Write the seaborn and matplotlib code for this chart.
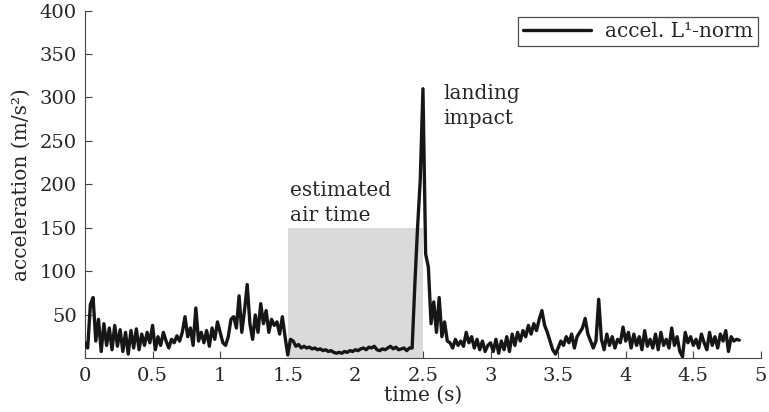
import numpy as np
import pandas as pd
import matplotlib
matplotlib.use("Agg")
import matplotlib.pyplot as plt
import seaborn as sns

sample_step = 0.02
accel = [
    18, 12, 62, 70, 20, 45, 8, 40, 15, 35, 10, 38, 14, 33, 8, 30, 5, 32, 12, 34, 10, 28, 15, 30, 18,
    38, 10, 25, 15, 30, 20, 12, 22, 18, 26, 20, 30, 48, 25, 35, 15, 58, 20, 30, 18, 32, 14, 35, 22, 42,
    30, 18, 15, 25, 45, 48, 35, 72, 30, 55, 85, 40, 22, 50, 30, 63, 40, 55, 30, 45, 38, 42, 28, 48, 25,
    4, 22, 20, 14, 16, 12, 14, 12, 13, 11, 12, 10, 11, 9, 10, 8, 9, 7, 6, 7, 6, 8, 7, 9, 8,
    10, 9, 11, 12, 10, 13, 12, 14, 10, 9, 11, 10, 12, 14, 11, 13, 10, 11, 12, 9, 12, 12, 85, 150, 205,
    310, 120, 105, 40, 65, 30, 70, 25, 42, 20, 18, 12, 22, 15, 20, 14, 30, 18, 25, 12, 22, 10, 20, 8, 15,
    18, 8, 22, 6, 20, 10, 25, 8, 28, 15, 30, 20, 32, 25, 38, 28, 40, 32, 45, 55, 38, 30, 20, 10, 5,
    12, 20, 15, 25, 18, 28, 12, 25, 30, 35, 46, 28, 20, 12, 20, 68, 22, 10, 28, 15, 25, 12, 22, 18, 36,
    20, 30, 12, 28, 15, 25, 10, 32, 14, 22, 12, 28, 10, 30, 15, 22, 12, 35, 15, 25, 8, 2, 30, 18, 25,
    15, 22, 12, 28, 18, 10, 30, 15, 25, 12, 28, 20, 32, 8, 25, 20, 22, 21,
]
time_s = np.arange(len(accel)) * sample_step

air_start, air_end, air_height = 1.5, 2.5, 150

x_ticks = [0, 0.5, 1, 1.5, 2, 2.5, 3, 3.5, 4, 4.5, 5]
x_labels = ["0", "0.5", "1", "1.5", "2", "2.5", "3", "3.5", "4", "4.5", "5"]
y_ticks = [50, 100, 150, 200, 250, 300, 350, 400]

df = pd.DataFrame({"time": time_s, "accel": accel})

sns.set_style("ticks")
plt.rcParams["font.family"] = ["DejaVu Serif"]

fig = plt.figure(figsize=(7.69, 4.12), dpi=100)
ax = fig.add_axes([0.1105, 0.13, 0.879, 0.8445])

# estimated air time
ax.fill_between([air_start, air_end], 0, air_height, color="#dadada", lw=0, zorder=1)

sns.lineplot(data=df, x="time", y="accel", ax=ax, color="#161616", lw=2.4,
             label="accel. L¹-norm", zorder=3)

ax.set_xlim(0, 5)
ax.set_ylim(0, 400)
ax.set_xticks(x_ticks)
ax.set_xticklabels(x_labels)
ax.set_yticks(y_ticks)
ax.tick_params(direction="in", length=5, width=0.8, color="#444444", labelsize=14, pad=6)
for s in ["top", "right"]:
    ax.spines[s].set_visible(False)
for s in ["left", "bottom"]:
    ax.spines[s].set_linewidth(0.8)
    ax.spines[s].set_color("#444444")

ax.set_xlabel("time (s)", fontsize=14.5, labelpad=1)
ax.set_ylabel("acceleration (m/s²)", fontsize=14.5, labelpad=6)

ax.text(1.52, 153, "estimated\nair time", fontsize=14.5, ha="left", va="bottom",
        linespacing=1.4)
ax.text(2.65, 316, "landing\nimpact", fontsize=14.5, ha="left", va="top",
        linespacing=1.4)

leg = ax.legend(loc="upper right", bbox_to_anchor=(1.005, 1.0), fontsize=14.5,
                frameon=True, fancybox=False, borderaxespad=0.3, handlelength=3.4,
                borderpad=0.25, handletextpad=0.7)
leg.get_frame().set_edgecolor("#222222")
leg.get_frame().set_linewidth(0.9)

fig.savefig("out.png", dpi=100)
